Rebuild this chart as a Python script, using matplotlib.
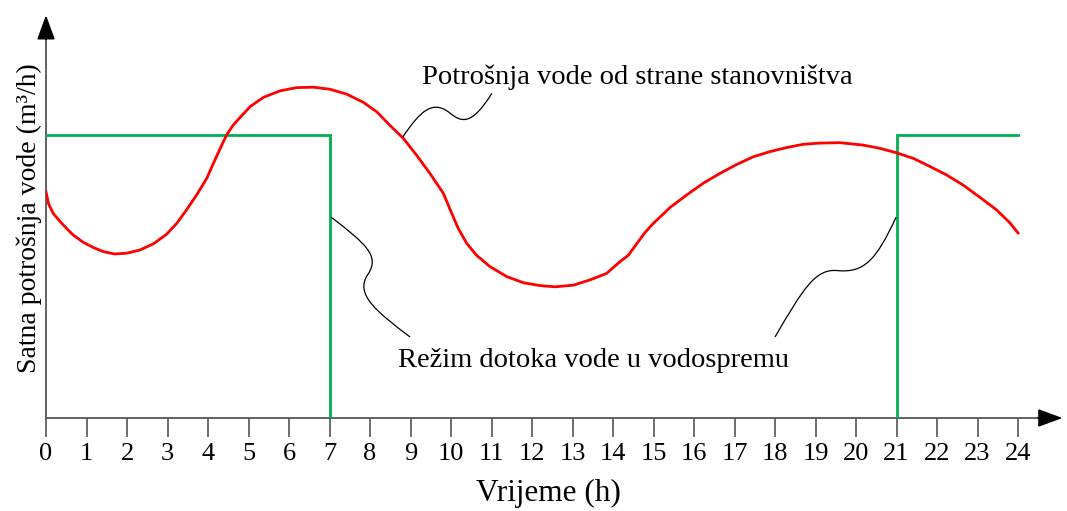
import numpy as np
import matplotlib.pyplot as plt
from matplotlib.path import Path
from matplotlib.patches import PathPatch

plt.rcParams['font.family'] = ['Liberation Serif', 'DejaVu Serif']

# hours
hours = list(range(0, 25))

# water consumption of the population (red)
cons_h = [0.0, 0.06, 0.18, 0.35, 0.51, 0.67, 0.92, 1.17, 1.41, 1.70, 1.99, 2.32,
          2.65, 2.98, 3.23, 3.47, 3.72, 3.97, 4.17, 4.34, 4.46, 4.62, 4.79,
          5.04, 5.37, 5.78, 6.19, 6.60, 7.01, 7.42, 7.83, 8.17, 8.49, 8.82,
          9.15, 9.48, 9.81, 10.02, 10.18, 10.39, 10.63, 10.96, 11.38, 11.79,
          12.20, 12.57, 13.02, 13.43, 13.84, 14.17, 14.38, 14.59, 14.79, 15.0,
          15.41, 15.82, 16.23, 16.64, 17.05, 17.46, 17.88, 18.29, 18.70, 19.11,
          19.60, 20.18, 20.59, 21.0, 21.42, 21.83, 22.24, 22.65, 23.06, 23.47,
          23.80, 24.0]
cons_q = [5.59, 5.30, 5.05, 4.85, 4.68, 4.52, 4.34, 4.21, 4.11, 4.05, 4.07, 4.15,
          4.30, 4.54, 4.81, 5.14, 5.51, 5.92, 6.37, 6.74, 6.99, 7.23, 7.42,
          7.69, 7.92, 8.08, 8.16, 8.17, 8.12, 8.00, 7.80, 7.56, 7.23, 6.91,
          6.49, 6.04, 5.55, 5.05, 4.68, 4.31, 4.02, 3.74, 3.49, 3.34,
          3.27, 3.24, 3.28, 3.41, 3.57, 3.86, 4.02, 4.31, 4.58, 4.81,
          5.20, 5.51, 5.80, 6.04, 6.26, 6.45, 6.58, 6.68, 6.76, 6.79,
          6.80, 6.74, 6.66, 6.55, 6.41, 6.21, 6.00, 5.75, 5.45, 5.14,
          4.82, 4.57]

# inflow into the reservoir (green), pump on 0-7 h and 21-24 h
inflow_h = [0, 7, 7, np.nan, 21, 21, 24]
inflow_q = [7, 7, 0, np.nan, 0, 7, 7]

# leader lines (bezier control points)
lead_top = [(8.81, 6.94), (9.25, 7.6), (9.55, 7.85), (9.95, 7.55),
            (10.25, 7.3), (10.5, 7.2), (11.01, 8.02)]
lead_left = [(7.04, 4.96), (7.9, 4.3), (8.25, 4.0), (7.95, 3.55),
             (7.6, 3.05), (8.2, 2.6), (8.99, 2.0)]
lead_right = [(18.0, 2.0), (18.7, 3.2), (19.0, 3.7), (19.55, 3.64),
              (20.2, 3.58), (20.5, 3.9), (20.99, 4.96)]

fig = plt.figure(figsize=(10.67, 5.11), dpi=100)
ax = fig.add_axes([46 / 1067, 93 / 511, 1020.6 / 1067, 413 / 511])
ax.set_xlim(0, 25.2)
ax.set_ylim(0, 10.2)

for s in ['top', 'right']:
    ax.spines[s].set_visible(False)
ax.spines['bottom'].set_bounds(0, 24.7)
ax.spines['left'].set_bounds(0, 9.5)
for s in ['bottom', 'left']:
    ax.spines[s].set_color('#555555')
    ax.spines[s].set_linewidth(1.3)

# arrow heads
head = '-|>,head_length=1.5,head_width=0.55'
ax.annotate('', xy=(25.1, 0), xytext=(24.5, 0),
            arrowprops=dict(arrowstyle=head, color='black', lw=1.3,
                            shrinkA=0, shrinkB=0),
            annotation_clip=False)
ax.annotate('', xy=(0, 9.95), xytext=(0, 9.35),
            arrowprops=dict(arrowstyle=head, color='black', lw=1.3,
                            shrinkA=0, shrinkB=0),
            annotation_clip=False)

ax.set_xticks(hours)
ax.set_xticklabels([str(h) for h in hours], fontsize=19)
ax.tick_params(axis='x', direction='out', length=14, width=1.2, color='#555555', pad=4)
ax.set_yticks([])

ax.plot(inflow_h, inflow_q, color='#00b050', lw=2, solid_joinstyle='miter', zorder=3)
ax.plot(cons_h, cons_q, color='#ff0000', lw=2, zorder=4)

codes = [Path.MOVETO] + [Path.CURVE4] * 6
for pts in [lead_top, lead_left, lead_right]:
    ax.add_patch(PathPatch(Path(pts, codes), fill=False, lw=0.9, color='black', zorder=5))

ax.text(9.28, 8.25, 'Potrošnja vode od strane stanovništva', fontsize=20.5,
        ha='left', va='baseline')
ax.text(8.69, 1.26, 'Režim dotoka vode u vodospremu', fontsize=20.5,
        ha='left', va='baseline')
ax.text(12.4, -2.06, 'Vrijeme (h)', fontsize=22.5, ha='center', va='baseline', clip_on=False)
ax.text(-0.42, 4.94, 'Satna potrošnja vode (m³/h)', fontsize=20, rotation=90,
        ha='center', va='center', clip_on=False)

fig.savefig('out.png', dpi=100)
